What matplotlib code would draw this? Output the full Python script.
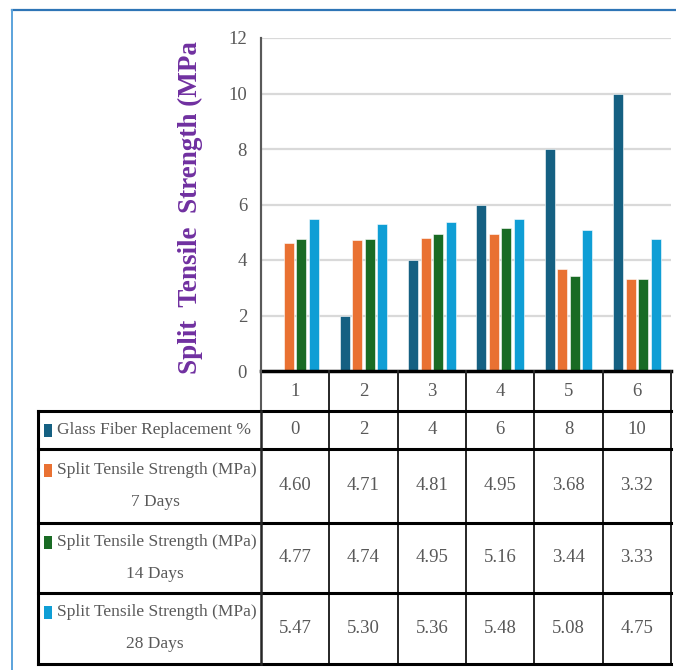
import numpy as np
import matplotlib
matplotlib.use("Agg")
import matplotlib.pyplot as plt
from matplotlib.patches import Rectangle
from matplotlib.lines import Line2D

# ---- data -------------------------------------------------------------
categories = ["1", "2", "3", "4", "5", "6"]
glass_fiber_pct = [0, 2, 4, 6, 8, 10]
sts_7_days = [4.60, 4.71, 4.81, 4.95, 3.68, 3.32]
sts_14_days = [4.77, 4.74, 4.95, 5.16, 3.44, 3.33]
sts_28_days = [5.47, 5.30, 5.36, 5.48, 5.08, 4.75]

series_labels = [
    "Glass Fiber Replacement %",
    "Split Tensile Strength (MPa)\n7 Days",
    "Split Tensile Strength (MPa)\n14 Days",
    "Split Tensile Strength (MPa)\n28 Days",
]
y_ticks = [0, 2, 4, 6, 8, 10, 12]
y_title = "Split  Tensile  Strength (MPa"

# ---- style ------------------------------------------------------------
colors = ["#156082", "#E97132", "#196B24", "#0F9ED5"]
text_gray = "#595959"
serif = "Liberation Serif"
fs_label = 12.5
fs_num = 13.5

W, H = 676, 670
fig = plt.figure(figsize=(W / 100, H / 100), dpi=100)
fig.patch.set_facecolor("white")

# plot area in pixel units
px_left, px_right, px_top, px_bottom = 261, 671, 38, 371
ax = fig.add_axes([px_left / W, 1 - px_bottom / H,
                   (px_right - px_left) / W, (px_bottom - px_top) / H])

series = [glass_fiber_pct, sts_7_days, sts_14_days, sts_28_days]
x = np.arange(len(categories))
step = 0.183
bw = 0.146
for i, (vals, c) in enumerate(zip(series, colors)):
    ax.bar(x + (i - 1.5) * step, vals, width=bw, color=c,
           edgecolor="white", linewidth=0.4, zorder=3)

ax.set_xlim(-0.5, len(categories) - 0.5)
ax.set_ylim(0, 12)
ax.set_yticks(y_ticks)
ax.set_yticklabels([str(t) for t in y_ticks], fontfamily=serif,
                   fontsize=fs_num, color=text_gray)
ax.tick_params(axis="y", length=0, pad=10)
ax.set_xticks([])
ax.yaxis.grid(True, color="#d9d9d9", linewidth=1.6, zorder=0)
ax.set_axisbelow(True)
for s in ("top", "right"):
    ax.spines[s].set_visible(False)
ax.spines["left"].set_color(text_gray)
ax.spines["left"].set_linewidth(1.5)
ax.spines["bottom"].set_color("black")
ax.spines["bottom"].set_linewidth(2.5)
ax.spines["bottom"].set_zorder(5)

fig.text(190 / W, 1 - 208 / H, y_title, rotation=90, ha="center",
         va="center", fontfamily=serif, fontweight="bold", fontsize=19.5,
         color="#7030A0")

# ---- overlay for data table and frame (pixel coordinates) -------------
ov = fig.add_axes([0, 0, 1, 1], zorder=10)
ov.set_xlim(0, W)
ov.set_ylim(H, 0)
ov.axis("off")
ov.patch.set_alpha(0)

def hline(y, x0, x1, lw=2.2, color="black"):
    ov.add_line(Line2D([x0, x1], [y, y], lw=lw, color=color,
                       solid_capstyle="projecting"))

def vline(x0, y0, y1, lw=1.4, color="#262626"):
    ov.add_line(Line2D([x0, x0], [y0, y1], lw=lw, color=color))

ncol = len(categories)
col_w = (px_right - px_left) / ncol
col_edges = [px_left + i * col_w for i in range(ncol + 1)]
tbl_left = 38
row_edges = [px_bottom, 411, 449, 523, 593, 664]

# category header row
vline(px_left, px_top, row_edges[1], lw=1.5, color=text_gray)
for xe in col_edges[1:]:
    vline(xe, row_edges[0], row_edges[-1])
for i, lab in enumerate(categories):
    ov.text((col_edges[i] + col_edges[i + 1]) / 2,
            (row_edges[0] + row_edges[1]) / 2, lab, ha="center",
            va="center", fontfamily=serif, fontsize=fs_num, color=text_gray)

# body rows
for yr in row_edges[1:]:
    hline(yr, tbl_left, px_right)
vline(tbl_left, row_edges[1], row_edges[-1], lw=2.2, color="black")
vline(px_left, row_edges[1], row_edges[-1], lw=1.8, color="#262626")

for r, (vals, c, lab) in enumerate(zip(series, colors, series_labels)):
    y0, y1 = row_edges[r + 1], row_edges[r + 2]
    yc = (y0 + y1) / 2
    lines = lab.split("\n")
    if len(lines) == 1:
        ly = [yc]
    else:
        ly = [yc - 16, yc + 16]
    # legend key
    ov.add_patch(Rectangle((44, ly[0] - 6.5), 8, 13, color=c, lw=0))
    ov.text(57, ly[0], lines[0], ha="left", va="center",
            fontfamily=serif, fontsize=fs_label, color=text_gray)
    if len(lines) > 1:
        ov.text(155, ly[1], lines[1], ha="center", va="center",
                fontfamily=serif, fontsize=fs_label, color=text_gray)
    for i, v in enumerate(vals):
        txt = f"{v:d}" if isinstance(v, int) else f"{v:.2f}"
        ov.text((col_edges[i] + col_edges[i + 1]) / 2, yc, txt,
                ha="center", va="center", fontfamily=serif, fontsize=fs_num,
                color=text_gray)

# outer frame
ov.add_line(Line2D([12, W], [9.5, 9.5], lw=1.6, color="#2E75B6"))
ov.add_line(Line2D([12, 12], [9.5, H], lw=1.4, color="#5BA3DC"))

fig.savefig("out.png", dpi=100)
